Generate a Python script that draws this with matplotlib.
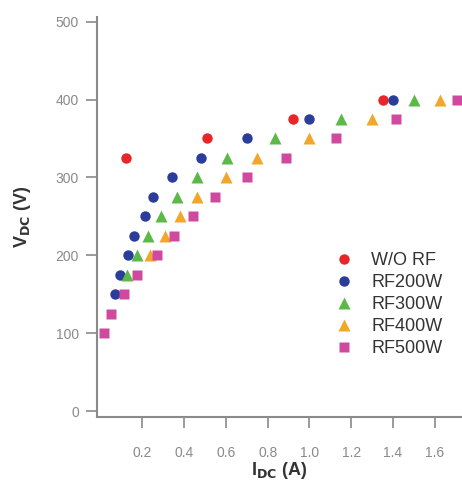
import numpy as np
import matplotlib.pyplot as plt

# W/O RF
i_worf = [0.12, 0.51, 0.92, 1.35]
v_worf = [325, 350, 375, 400]
# RF200W
i_200 = [0.07, 0.095, 0.133, 0.162, 0.213, 0.253, 0.34, 0.48, 0.70, 1.0, 1.40]
v_200 = [150, 175, 200, 225, 250, 275, 300, 325, 350, 375, 400]
# RF300W
i_300 = [0.125, 0.176, 0.229, 0.29, 0.365, 0.463, 0.607, 0.835, 1.15, 1.50]
v_300 = [175, 200, 225, 250, 275, 300, 325, 350, 375, 400]
# RF400W
i_400 = [0.237, 0.309, 0.38, 0.46, 0.60, 0.75, 1.0, 1.30, 1.624]
v_400 = [200, 225, 250, 275, 300, 325, 350, 375, 400]
# RF500W
i_500 = [0.018, 0.049, 0.114, 0.173, 0.269, 0.352, 0.444, 0.548, 0.70, 0.89, 1.127, 1.414, 1.705]
v_500 = [100, 125, 150, 175, 200, 225, 250, 275, 300, 325, 350, 375, 400]

xticks = [0.2, 0.4, 0.6, 0.8, 1.0, 1.2, 1.4, 1.6]
yticks = [0, 100, 200, 300, 400, 500]

plt.rcParams['font.family'] = ['Liberation Sans', 'DejaVu Sans']

fig = plt.figure(figsize=(4.62, 4.82), dpi=100)
ax = fig.add_axes([97/462, 65/482, 365/462, 400/482])

ms = 7.5
ax.plot(i_worf, v_worf, 'o', ms=ms, color='#e8262a', mec='none', label='W/O RF')
ax.plot(i_200, v_200, 'o', ms=ms, color='#2b3d9a', mec='none', label='RF200W')
ax.plot(i_300, v_300, '^', ms=ms+0.5, color='#5db947', mec='none', label='RF300W')
ax.plot(i_400, v_400, '^', ms=ms+0.5, color='#f2a72a', mec='none', label='RF400W')
ax.plot(i_500, v_500, 's', ms=ms, color='#cf4a9f', mec='none', label='RF500W')

ax.set_xlim(-0.017, 1.73)
ax.set_ylim(-7.7, 506)
ax.set_xticks(xticks)
ax.set_xticklabels(['0.2', '0.4', '0.6', '0.8', '1.0', '1.2', '1.4', '1.6'])
ax.set_yticks(yticks)

for s in ['top', 'right']:
    ax.spines[s].set_visible(False)
for s in ['left', 'bottom']:
    ax.spines[s].set_color('#8a8a8a')
    ax.spines[s].set_linewidth(1.5)
ax.tick_params(axis='both', direction='out', length=8, width=1.2, color='#8a8a8a',
               labelcolor='#8a8a8a', labelsize=10)
ax.tick_params(axis='x', pad=13)
ax.tick_params(axis='y', pad=5)

ax.set_xlabel(r'I$_{\mathbf{DC}}$ (A)', fontsize=13, fontweight='bold', color='#333333', labelpad=0)
ax.set_ylabel(r'V$_{\mathbf{DC}}$ (V)', fontsize=13, fontweight='bold', color='#333333', labelpad=16)

ax.legend(loc='upper left', bbox_to_anchor=(326/462, 1 - 245/482), bbox_transform=fig.transFigure,
          frameon=False, fontsize=13, handletextpad=0.9, labelspacing=0.28, handlelength=1.2,
          borderaxespad=0, labelcolor='#333333')

plt.savefig('out.png', dpi=100)
